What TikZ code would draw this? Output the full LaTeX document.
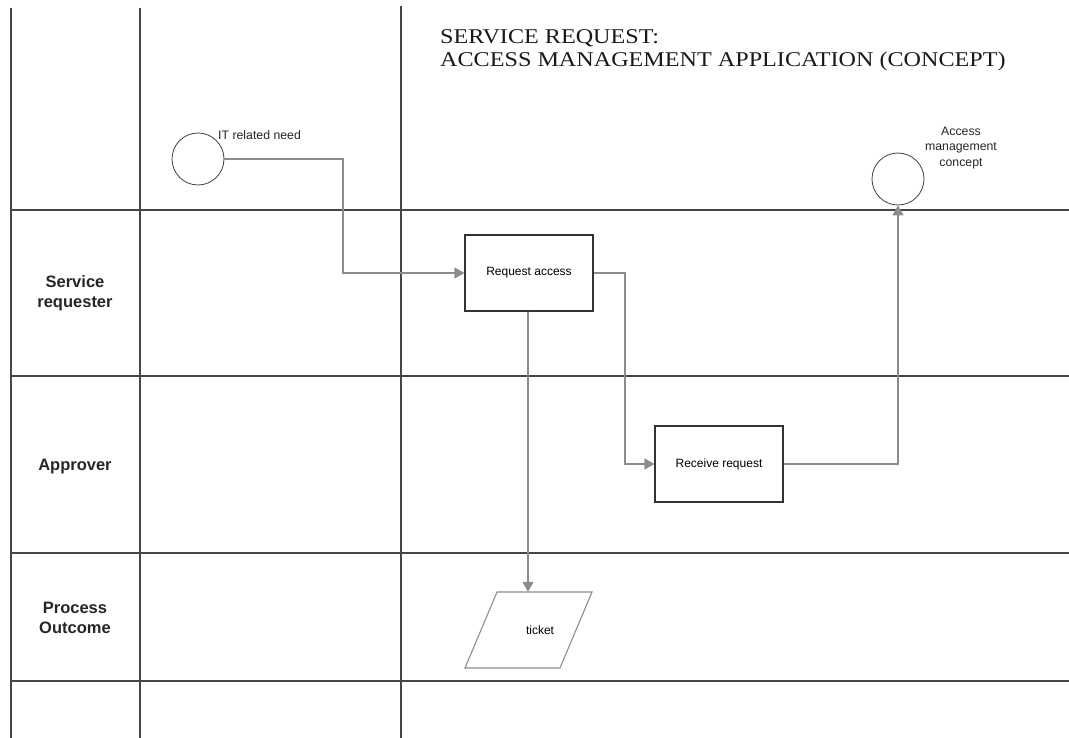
\documentclass[tikz,border=0pt]{standalone}
\usepackage{fontspec}
\setmainfont{Liberation Serif}
\setsansfont{Liberation Sans}
\usepackage{tikz}
\usetikzlibrary{calc,arrows.meta}
\usepackage{xcolor}
\definecolor{flowgray}{RGB}{140,140,140}
\definecolor{lanegray}{RGB}{70,70,70}

\begin{document}
\begin{tikzpicture}[x=1pt,y=-1pt]
  \tikzset{laneline/.style={draw=lanegray,line width=1.3pt}}
  \tikzset{lanelabel/.style={font=\sffamily\bfseries\fontsize{16.5}{20}\selectfont,align=center,text=black!85}}
  \tikzset{taskbox/.style={rectangle,draw=black!80,line width=1.1pt,minimum width=128pt,minimum height=76pt,font=\sffamily\fontsize{12}{14}\selectfont,fill=white}}
  \tikzset{eventcircle/.style={circle,draw=black!75,line width=0.8pt,minimum size=52pt,inner sep=0pt}}
  \tikzset{outcomeshape/.style={draw=flowgray,line width=1.1pt}}
  \tikzset{flowedge/.style={draw=flowgray,line width=1.1pt,-{Triangle[length=10pt,width=11pt]}}}
  \tikzset{smalltext/.style={font=\sffamily\fontsize{12.3}{15.5}\selectfont,align=center,text=black!85,inner sep=0pt}}
  \tikzset{titletext/.style={font=\fontsize{21}{20}\selectfont,inner sep=0pt,anchor=base west,text=black!90}}
  \useasboundingbox (0,0) rectangle (1069,738);
  % lanes
  \draw[laneline] (11,8) -- (11,738);
  \draw[laneline] (140,8) -- (140,738);
  \draw[laneline] (401,6) -- (401,738);
  \draw[laneline] (11,210) -- (1069,210);
  \draw[laneline] (11,376) -- (1069,376);
  \draw[laneline] (11,553) -- (1069,553);
  \draw[laneline] (11,681) -- (1069,681);
  \node[lanelabel] (lane1) at (75,293) {Service\\requester};
  \node[lanelabel] (lane2) at (75,467) {Approver};
  \node[lanelabel] (lane3) at (75,618) {Process\\Outcome};
  % title
  \node[titletext] (title1) at (440,44) {\scalebox{1.15}[1]{SERVICE REQUEST:}};
  \node[titletext] (title2) at (440,67) {\scalebox{1.15}[1]{ACCESS MANAGEMENT APPLICATION (CONCEPT)}};
  % events and tasks
  \node[eventcircle] (start) at (198,159) {};
  \node[smalltext,anchor=west] (startlbl) at (218,135) {IT related need};
  \node[eventcircle] (finish) at (898,179) {};
  \node[smalltext] (finishlbl) at (961,148) {Access\\management\\concept};
  \node[taskbox] (req) at (529,273) {Request access};
  \node[taskbox] (recv) at (719,464) {Receive request};
  \draw[outcomeshape] (497,592) -- (592,592) -- (560,668) -- (465,668) -- cycle;
  \node[font=\sffamily\fontsize{12}{14}\selectfont,inner sep=0pt,minimum height=76pt] (ticket) at (540,630) {ticket};
  % flows
  \draw[flowedge] (start.east) -| (343,273) -- (req.west);
  \draw[flowedge] (req.east) -| (625,464) -- (recv.west);
  \draw[flowedge] (recv.east) -| (finish.south);
  \draw[flowedge] (req.south -| 528,0) -- (ticket.north -| 528,0);
\end{tikzpicture}
\end{document}
